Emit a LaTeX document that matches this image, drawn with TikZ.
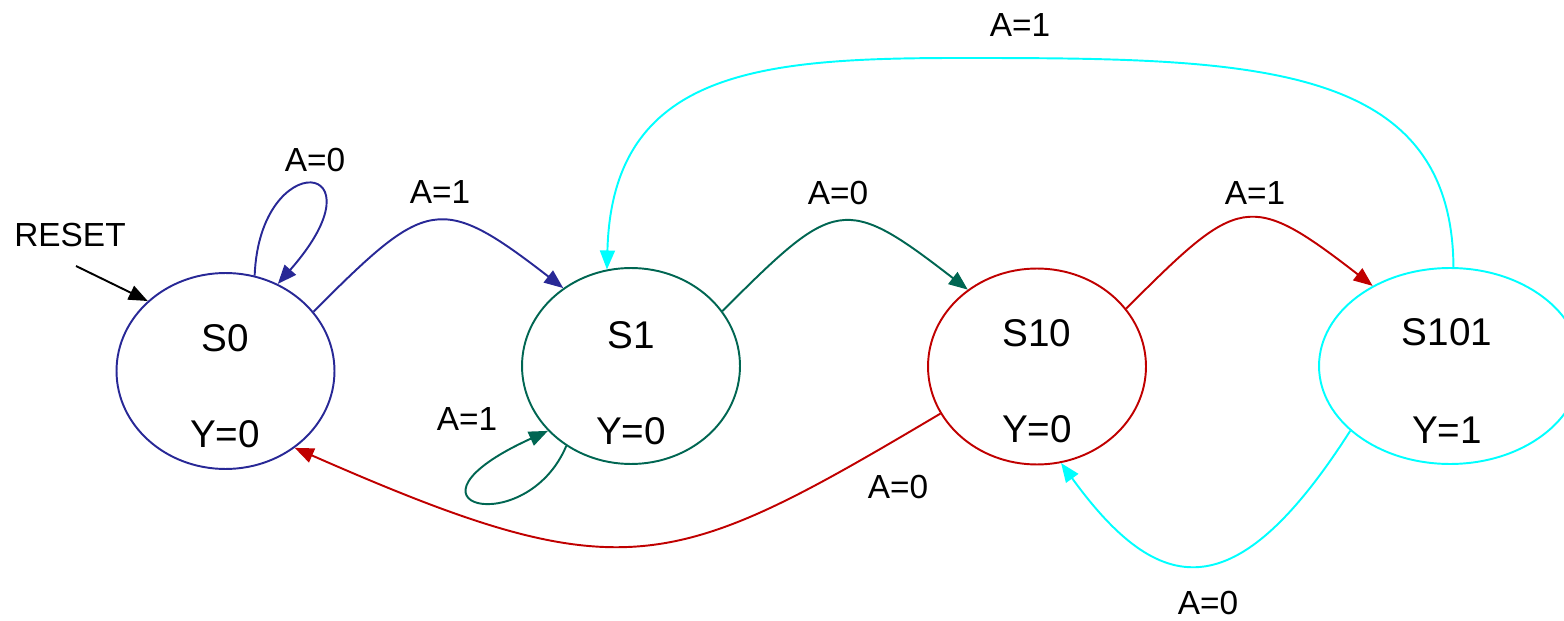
\documentclass[tikz,border=0pt]{standalone}
\usepackage{fontspec}
\setmainfont{Liberation Sans}
\usetikzlibrary{arrows.meta,shapes.geometric}

\definecolor{sblue}{RGB}{40,40,150}
\definecolor{sgreen}{RGB}{0,102,82}
\definecolor{sred}{RGB}{192,0,0}
\definecolor{scyan}{RGB}{0,255,255}

\begin{document}
\begin{tikzpicture}[x=0.02cm,y=-0.02cm,->,>={Triangle[length=0.38cm,width=0.3cm]},
    line width=1.1pt,
    state node/.style={ellipse,draw,inner sep=0pt,minimum width=4.36cm,minimum height=3.92cm},
    name node/.style={font=\fontsize{22}{26}\selectfont},
    edge label/.style={font=\fontsize{19}{23}\selectfont}]

  \useasboundingbox (0,0) rectangle (1564,621);

  \node[state node,draw=sblue] (s0) at (225.5,371) {};
  \node[state node,draw=sgreen] (s1) at (631,366) {};
  \node[state node,draw=sred] (s10) at (1037,366.5) {};
  \node[state node,draw=scyan,minimum width=5.24cm] (s101) at (1450,366) {};

  \node[name node] (s0n) at (225,338) {S0};
  \node[name node] (s0y) at (225,434) {Y=0};
  \node[name node] (s1n) at (631,335) {S1};
  \node[name node] (s1y) at (631,431) {Y=0};
  \node[name node] (s10n) at (1037,333) {S10};
  \node[name node] (s10y) at (1037,429) {Y=0};
  \node[name node] (s101n) at (1447,332) {S101};
  \node[name node] (s101y) at (1447,430) {Y=1};

  \node[edge label] (reset) at (70,235) {RESET};
  \coordinate (rst) at (76,266);
  \draw[black] (rst) -- (s0.138);

  % transitions
  \draw[sblue] (s0.73) .. controls +(5,-130) and +(110,-125) .. (s0.59);
  \draw[sblue] (s0.34) .. controls +(113,-113) and +(-124,-96) .. (s1.131);
  \draw[sgreen] (s1.231) .. controls +(-40,95) and +(-165,75) .. (s1.218);
  \draw[sgreen] (s1.31) .. controls +(113,-113) and +(-124,-96) .. (s10.132);
  \draw[sred] (s10.33) .. controls +(113,-113) and +(-124,-96) .. (s101.134);
  \draw[sred] (s10.206) .. controls +(-270,160) and +(330,145) .. (s0.312);
  \draw[scyan] (s101.213) .. controls +(-115,180) and +(98,135) .. (s10.284);
  \draw[scyan] (s101.88) .. controls (1452,60) and (1250,58) .. (960,58)
    .. controls (760,58) and (612,70) .. (s1.104);

  \node[edge label] (l1) at (315,160) {A=0};
  \node[edge label] (l2) at (440,192) {A=1};
  \node[edge label] (l3) at (467,419) {A=1};
  \node[edge label] (l4) at (838,193) {A=0};
  \node[edge label] (l5) at (1255,193) {A=1};
  \node[edge label] (l6) at (1020,25) {A=1};
  \node[edge label] (l7) at (898,487) {A=0};
  \node[edge label] (l8) at (1208,603) {A=0};

\end{tikzpicture}
\end{document}
